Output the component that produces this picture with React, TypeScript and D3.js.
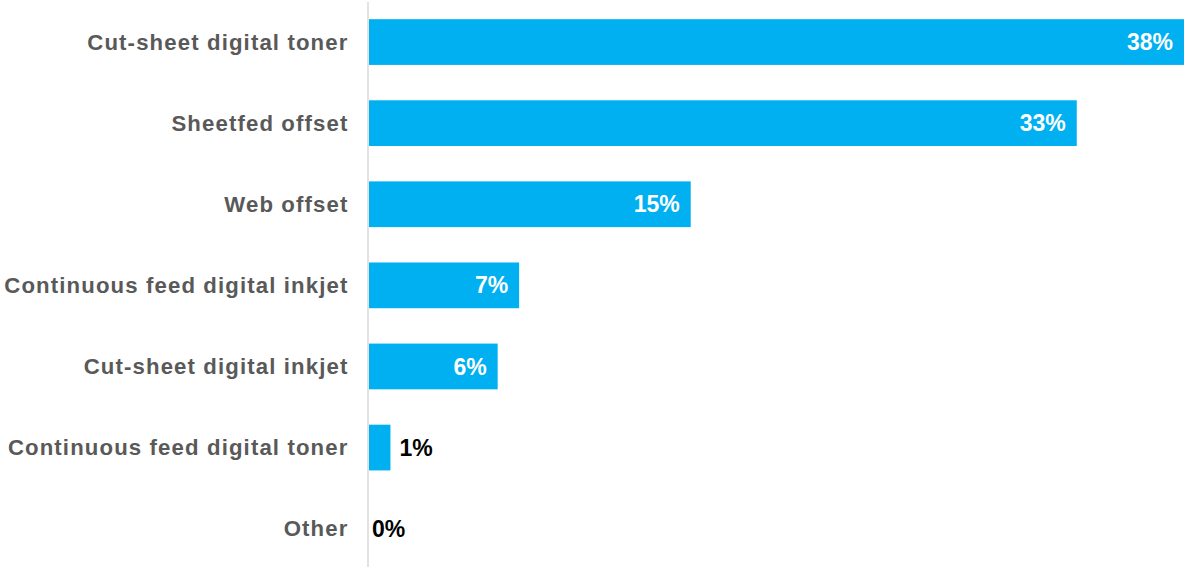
import React from "react";
import * as d3 from "d3";

const categories = [
  "Cut-sheet digital toner",
  "Sheetfed offset",
  "Web offset",
  "Continuous feed digital inkjet",
  "Cut-sheet digital inkjet",
  "Continuous feed digital toner",
  "Other",
];
const values = [38, 33, 15, 7, 6, 1, 0];
const valueLabels = ["38%", "33%", "15%", "7%", "6%", "1%", "0%"];

const W = 1184;
const H = 567;

export default function App() {
  const x = d3.scaleLinear().domain([0, 38]).range([369, 1184]);
  const y = d3
    .scaleBand<string>()
    .domain(categories)
    .range([1.5, 569.2])
    .paddingInner(0.436)
    .paddingOuter(0.218);
  const font = "'Liberation Sans', Arial, Helvetica, sans-serif";
  return (
    <svg
      width={W}
      height={H}
      style={{ position: "absolute", left: 0, top: 0, display: "block", background: "#fff" }}
    >
      {categories.map((c, i) => {
        const v = values[i];
        const yc = (y(c) as number) + y.bandwidth() / 2;
        const inside = v >= 5;
        return (
          <g key={c}>
            {v > 0 && (
              <rect
                x={x(0)}
                y={y(c)}
                width={x(v) - x(0)}
                height={y.bandwidth()}
                fill="#00B0F0"
              />
            )}
            <text
              x={348.5}
              y={yc}
              dy="0.35em"
              textAnchor="end"
              fontFamily={font}
              fontWeight="bold"
              fontSize={22.2}
              letterSpacing={1.12}
              fill="#595959"
            >
              {c}
            </text>
            <text
              x={inside ? x(v) - 11 : x(v) + (v > 0 ? 9 : 3)}
              y={yc}
              dy="0.35em"
              textAnchor={inside ? "end" : "start"}
              fontFamily={font}
              fontWeight="bold"
              fontSize={23}
              fill={inside ? "#ffffff" : "#000000"}
            >
              {valueLabels[i]}
            </text>
          </g>
        );
      })}
      <line x1={368} x2={368} y1={2} y2={H} stroke="#d9d9d9" strokeWidth={1.5} />
    </svg>
  );
}
